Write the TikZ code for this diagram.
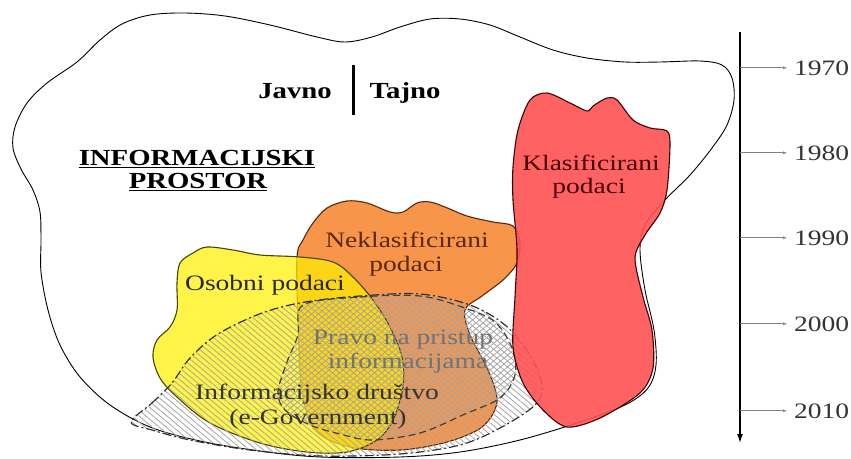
\documentclass[tikz,border=0pt]{standalone}
\usepackage{fontspec}
\setmainfont{Liberation Serif}
\usetikzlibrary{patterns.meta,arrows.meta}
\newcommand{\sx}[1]{\scalebox{1.25}[1]{#1}}
\definecolor{orF}{RGB}{247,150,75}
\definecolor{orL}{RGB}{90,40,10}
\definecolor{yeF}{RGB}{255,240,0}
\definecolor{yeL}{RGB}{70,70,0}
\definecolor{reF}{RGB}{255,82,82}
\definecolor{reL}{RGB}{60,0,0}
\definecolor{reT}{RGB}{70,0,0}
\definecolor{hatchC}{RGB}{165,165,165}
\begin{document}
\begin{tikzpicture}[x=1pt,y=-1pt,
  txt/.style={inner sep=0pt,font=\fontsize{22}{25}\selectfont},
  btxt/.style={inner sep=0pt,font=\fontsize{23}{25}\selectfont\bfseries},
  blob/.style={line width=1.1pt},
  yeararrow/.style={gray,line width=0.6pt,-{Latex[length=4pt,width=3pt]},shorten >=7pt}]
\useasboundingbox (0,0) rectangle (851,458);

% outer information space
\draw[line width=0.9pt,fill=white] plot[smooth cycle,tension=0.55] coordinates {
(15,127) (27,103) (47,83) (77,62) (100,40) (122,24) (150,15) (185,13) (225,16) (270,25)
(317,37) (345,42) (372,37) (400,27) (430,19) (460,19) (490,25) (520,37) (553,50) (587,58)
(625,62) (660,62) (700,61) (722,65) (732,78) (734,100) (727,125) (712,148) (690,175) (665,200)
(645,225) (640,250) (645,290) (654,330) (656,365) (648,388) (625,405) (580,422) (520,440)
(460,452) (400,457) (320,457) (260,451) (200,441) (150,427) (110,405) (80,377) (60,345)
(48,310) (41,272) (41,240) (40,212) (33,190) (21,169) (13,148)};

% Neklasificirani podaci (orange)
\draw[blob,draw=orL,fill=orF] plot[smooth cycle,tension=0.55] coordinates {
(297,257) (303,240) (313,223) (327,208) (347,201) (367,203) (390,212) (403,212) (417,203)
(430,202) (445,207) (467,216) (493,222) (513,226) (520,242) (517,263) (503,280) (482,296)
(465,310) (470,335) (488,370) (497,402) (482,427) (447,442) (400,450) (350,447) (315,430)
(302,390) (298,320)};

% Osobni podaci (yellow)
\draw[blob,draw=yeL,fill=yeF,fill opacity=0.72] plot[smooth cycle,tension=0.55] coordinates {
(177,283) (180,263) (193,253) (207,247) (233,250) (260,255) (300,257) (333,262) (353,277)
(373,300) (390,327) (402,357) (403,387) (393,420) (377,440) (347,452) (307,452) (260,443)
(210,423) (177,397) (160,378) (153,357) (157,340) (170,327) (177,310)};

% Informacijsko drustvo (dash-dot, hatched)
\path[pattern={Lines[angle=-40,distance=4.5pt,line width=0.8pt]},pattern color=hatchC]
 plot[smooth cycle,tension=0.55] coordinates {
(131,422) (152,403) (172,383) (190,358) (218,334) (262,313) (305,302) (360,296) (420,294)
(470,305) (505,325) (530,355) (542,385) (535,405) (500,428) (460,445) (400,454) (320,456)
(250,450) (190,440) (152,430)};
\draw[line width=1.2pt,draw=black!80,dash pattern=on 9pt off 3pt on 2pt off 3pt]
 plot[smooth cycle,tension=0.55] coordinates {
(131,422) (152,403) (172,383) (190,358) (218,334) (262,313) (305,302) (360,296) (420,294)
(470,305) (505,325) (530,355) (542,385) (535,405) (500,428) (460,445) (400,454) (320,456)
(250,450) (190,440) (152,430)};

% Pravo na pristup informacijama (dashed, hatched)
\path[pattern={Lines[angle=40,distance=4.5pt,line width=0.8pt]},pattern color=hatchC]
 plot[smooth cycle,tension=0.55] coordinates {
(303,305) (360,297) (420,296) (465,308) (495,322) (512,348) (515,375) (500,398) (465,414)
(420,433) (372,440) (340,434) (310,425) (285,410) (278,392) (287,362) (298,335)};
\draw[line width=1.2pt,draw=black!75,dash pattern=on 7pt off 4pt]
 plot[smooth cycle,tension=0.55] coordinates {
(303,305) (360,297) (420,296) (465,308) (495,322) (512,348) (515,375) (500,398) (465,414)
(420,433) (372,440) (340,434) (310,425) (285,410) (278,392) (287,362) (298,335)};

% Klasificirani podaci (red)
\draw[blob,draw=reL,fill=reF,fill opacity=0.9] plot[smooth cycle,tension=0.5] coordinates {
(530,100) (547,93) (570,103) (587,111) (593,106) (607,98) (617,100) (633,120) (650,128)
(667,131) (670,145) (667,190) (660,213) (645,235) (635,258) (643,297) (652,330) (653,368)
(640,393) (600,418) (567,427) (543,410) (523,383) (513,347) (515,297) (517,250) (513,200)
(513,167) (518,130)};

% texts
\node[btxt,anchor=base] (javno) at (295,98) {\sx{Javno}};
\node[btxt,anchor=base] (tajno) at (405,98) {\sx{Tajno}};
\coordinate (bart) at (353,65);
\coordinate (barb) at (353,115);
\draw[line width=3pt] (bart) -- (barb);

\node[btxt,anchor=base] (inf) at (197,165) {\sx{INFORMACIJSKI}};
\node[btxt,anchor=base] (pro) at (198,188) {\sx{PROSTOR}};
\draw[line width=1.4pt] ([yshift=-2.5pt]inf.base west) -- ([yshift=-2.5pt]inf.base east);
\draw[line width=1.4pt] ([yshift=-2.5pt]pro.base west) -- ([yshift=-2.5pt]pro.base east);

\node[txt,anchor=base,text=reT] (kl1) at (591,170) {\sx{Klasificirani}};
\node[txt,anchor=base,text=reT] (kl2) at (589,193) {\sx{podaci}};
\node[txt,anchor=base,text=orL] (nk1) at (407,247) {\sx{Neklasificirani}};
\node[txt,anchor=base,text=orL] (nk2) at (406,271) {\sx{podaci}};
\node[txt,anchor=base,text=black!85] (os) at (265,290) {\sx{Osobni podaci}};
\node[txt,anchor=base,text=black!55] (pr1) at (403,344) {\sx{Pravo na pristup}};
\node[txt,anchor=base,text=black!55] (pr2) at (408,368) {\sx{informacijama}};
\node[txt,anchor=base,text=black!80] (id1) at (317,399) {\sx{Informacijsko društvo}};
\node[txt,anchor=base,text=black!80] (id2) at (318,424) {\sx{(e-Government)}};

% timeline
\coordinate (tltop) at (740,32);
\coordinate (tlbot) at (740,443);
\draw[line width=1.3pt,-{Latex[length=9pt,width=6pt]}] (tltop) -- (tlbot);
\node[txt,anchor=base west,text=black!80] (y1) at (794,75) {\sx{1970}};
\node[txt,anchor=base west,text=black!80] (y2) at (794,160) {\sx{1980}};
\node[txt,anchor=base west,text=black!80] (y3) at (794,245) {\sx{1990}};
\node[txt,anchor=base west,text=black!80] (y4) at (794,331) {\sx{2000}};
\node[txt,anchor=base west,text=black!80] (y5) at (794,418) {\sx{2010}};
\foreach \y in {y1,y2,y3,y4,y5}
  \draw[yeararrow] (\y.west -| tltop) -- (\y.west);
\end{tikzpicture}
\end{document}
